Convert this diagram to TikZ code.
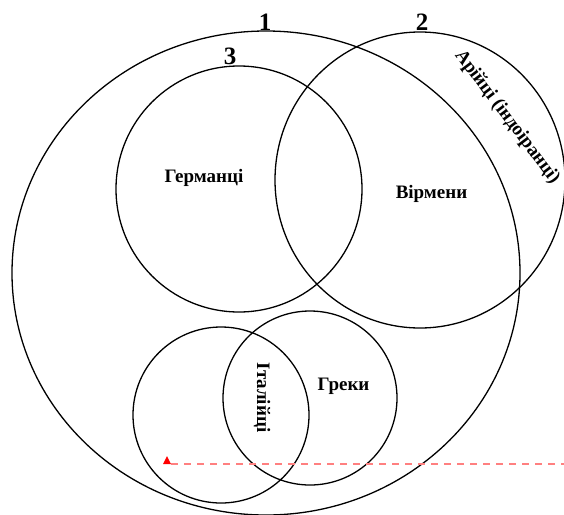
\documentclass[tikz,border=0pt]{standalone}
\usepackage{fontspec}
\setmainfont{Liberation Serif}
\usetikzlibrary{shapes.geometric}
\begin{document}
\begin{tikzpicture}[x=1pt,y=-1pt,
  venn/.style={draw=black, line width=1.3pt, inner sep=0pt, outer sep=0pt},
  lbl/.style={font=\bfseries\fontsize{19}{22}\selectfont, inner sep=0pt},
  num/.style={font=\bfseries\fontsize{25}{28}\selectfont, inner sep=0pt}]
\useasboundingbox (0,0) rectangle (564,514);
% circles
\node[venn, ellipse, minimum width=508pt, minimum height=484pt] (c1) at (266,273) {};
\node[venn, ellipse, minimum width=290pt, minimum height=296pt] (c2) at (420,180) {};
\node[venn, circle, minimum size=246pt] (c3) at (239,189) {};
\node[venn, circle, minimum size=176pt] (c4) at (221,415) {};
\node[venn, circle, minimum size=174pt] (c5) at (310,398) {};
% numbers
\node[num] (n1) at (265,22) {1};
\node[num] (n2) at (422,22) {2};
\node[num] (n3) at (230,56) {3};
% labels
\node[lbl, anchor=base] (germ) at (204,182) {Германці};
\node[lbl, anchor=base] (virm) at (431.5,198) {Вірмени};
\node[lbl, anchor=base] (grek) at (343.5,390) {Греки};
\node[lbl, rotate=-90] (ital) at (262,397.5) {Італійці};
\node[lbl, rotate=-53] (ariy) at (507,117) {Арійці (індоіранці)};
% red dashed line with marker
\coordinate (r0) at (171,464);
\coordinate (r1) at (564,464);
\draw[red!50, line width=2.5pt, dash pattern=on 7pt off 6pt] (r0) -- (r1);
\fill[red] ([xshift=-8pt]r0) -- ([xshift=-4pt,yshift=8pt]r0) -- (r0) -- cycle;
\end{tikzpicture}
\end{document}
